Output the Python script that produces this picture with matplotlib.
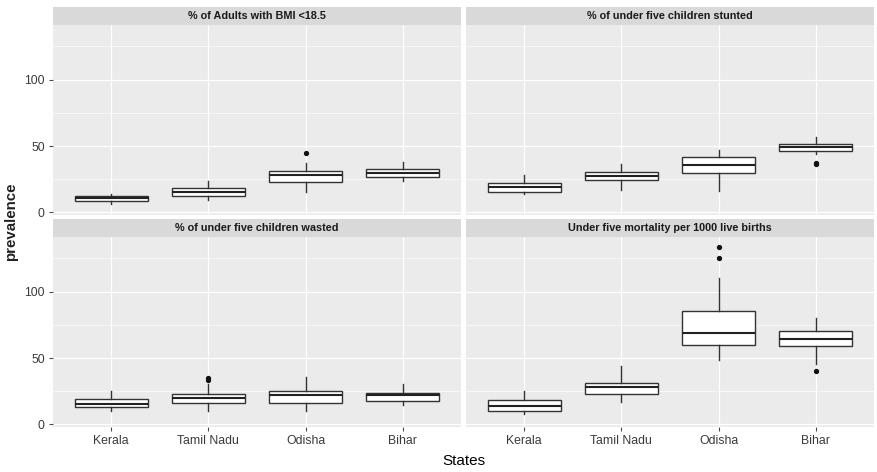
import matplotlib
matplotlib.use("Agg")
import matplotlib.pyplot as plt
from matplotlib.patches import Rectangle

plt.rcParams['font.family'] = ['Liberation Sans', 'DejaVu Sans']

states = ["Kerala", "Tamil Nadu", "Odisha", "Bihar"]
panel_titles = ["% of Adults with BMI <18.5", "% of under five children stunted",
                "% of under five children wasted", "Under five mortality per 1000 live births"]

# box statistics per panel: [Kerala, Tamil Nadu, Odisha, Bihar]
bmi_q1 = [8.3, 12.0, 22.5, 27.0]
bmi_med = [10.5, 15.3, 28.5, 30.0]
bmi_q3 = [12.5, 18.3, 31.5, 32.5]
bmi_lo = [6.3, 9.5, 15.0, 23.3]
bmi_hi = [13.8, 23.8, 37.0, 37.8]
bmi_out = [[], [], [45.0], []]

stunt_q1 = [15.0, 24.5, 29.8, 46.0]
stunt_med = [19.3, 27.5, 36.0, 49.5]
stunt_q3 = [21.8, 30.3, 42.0, 51.8]
stunt_lo = [13.8, 17.0, 15.8, 43.8]
stunt_hi = [27.8, 36.8, 47.0, 57.0]
stunt_out = [[], [], [], [37.5, 36.5]]

waste_q1 = [13.4, 15.8, 16.1, 17.6]
waste_med = [15.3, 19.6, 21.8, 21.8]
waste_q3 = [19.1, 22.8, 25.2, 24.0]
waste_lo = [9.9, 9.9, 9.9, 14.9]
waste_hi = [24.8, 30.2, 35.6, 30.2]
waste_out = [[], [35.0, 33.5], [], []]

mort_q1 = [10.0, 22.5, 60.0, 59.0]
mort_med = [13.7, 28.0, 68.8, 64.2]
mort_q3 = [18.0, 31.5, 85.5, 70.0]
mort_lo = [7.5, 16.7, 48.7, 45.5]
mort_hi = [24.8, 43.6, 110.5, 80.5]
mort_out = [[], [], [133.7, 125.0], [40.3]]

panels = [
    (bmi_q1, bmi_med, bmi_q3, bmi_lo, bmi_hi, bmi_out),
    (stunt_q1, stunt_med, stunt_q3, stunt_lo, stunt_hi, stunt_out),
    (waste_q1, waste_med, waste_q3, waste_lo, waste_hi, waste_out),
    (mort_q1, mort_med, mort_q3, mort_lo, mort_hi, mort_out),
]

W, H = 877, 472
fig = plt.figure(figsize=(W / 100, H / 100), dpi=100)

px_left = [53, 466]
px_w = 408
px_top = [25, 237]
px_h = 190

ylim = (-2.0, 141.2)
edge = "#333333"
tick_col = "#4D4D4D"

for i, (q1, med, q3, lo, hi, out) in enumerate(panels):
    r, c = divmod(i, 2)
    ax = fig.add_axes([px_left[c] / W, 1 - (px_top[r] + px_h) / H, px_w / W, px_h / H])
    ax.set_facecolor("#EBEBEB")
    stats = []
    for k, s in enumerate(states):
        stats.append(dict(label=s, q1=q1[k], med=med[k], q3=q3[k],
                          whislo=lo[k], whishi=hi[k], fliers=out[k]))
    ax.bxp(stats, positions=range(1, 5), widths=0.75, patch_artist=True,
           showcaps=False,
           boxprops=dict(facecolor="white", edgecolor=edge, linewidth=1.0),
           medianprops=dict(color="#222222", linewidth=1.5),
           whiskerprops=dict(color=edge, linewidth=1.0),
           flierprops=dict(marker="o", markersize=2.8, markerfacecolor="#111111",
                           markeredgecolor="#111111"),
           zorder=3)
    ax.set_xlim(0.4, 4.6)
    ax.set_ylim(*ylim)
    ax.set_yticks([0, 50, 100])
    ax.set_yticks([25, 75, 125], minor=True)
    ax.set_xticks(range(1, 5))
    ax.grid(True, which="major", color="white", linewidth=0.9, zorder=0)
    ax.grid(True, which="minor", axis="y", color="white", linewidth=0.45, zorder=0)
    ax.set_axisbelow(True)
    for sp in ax.spines.values():
        sp.set_visible(False)
    ax.tick_params(axis="both", which="major", length=3, width=0.8, color=tick_col,
                   labelsize=8.8, labelcolor="#3A3A3A", pad=3)
    ax.tick_params(axis="both", which="minor", length=0)
    if r == 0:
        ax.tick_params(axis="x", which="major", length=0, labelbottom=False)
    else:
        ax.set_xticklabels(states)
    if c == 1:
        ax.tick_params(axis="y", which="major", length=0, labelleft=False)
    # strip
    sh = 18.5 / px_h
    ax.add_patch(Rectangle((0, 1), 1, sh, transform=ax.transAxes, facecolor="#D9D9D9",
                           edgecolor="none", clip_on=False))
    ax.text(0.5, 1 + sh / 2, panel_titles[i], transform=ax.transAxes, ha="center",
            va="center", fontsize=7.8, fontweight="bold", color="#1A1A1A")

fig.text(11 / W, 1 - 222 / H, "prevalence", rotation=90, ha="center", va="center",
         fontsize=10.8, fontweight="bold", color="#222222")
fig.text(464 / W, 1 - 461 / H, "States", ha="center", va="center",
         fontsize=11, color="black")

fig.savefig("out.png", dpi=100, facecolor="white")
